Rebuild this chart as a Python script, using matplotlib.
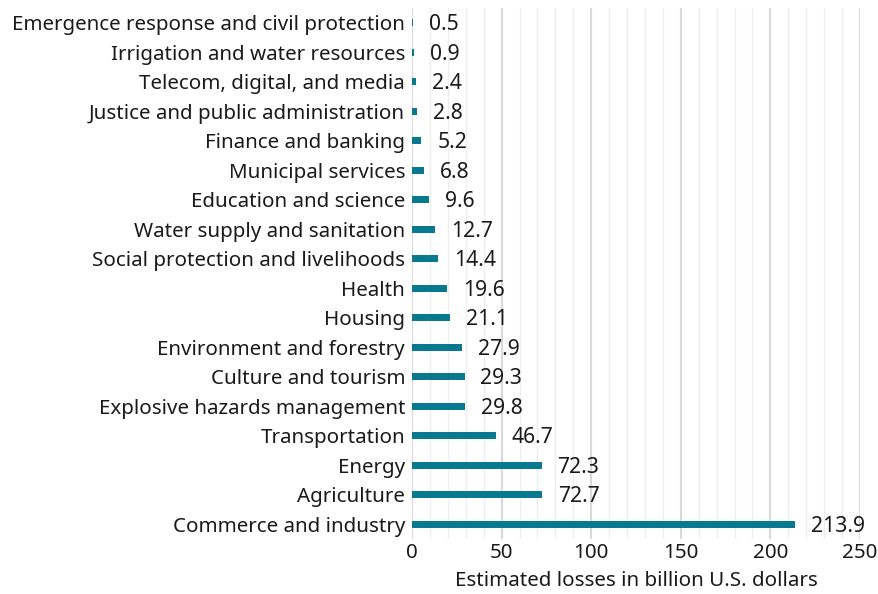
import matplotlib
matplotlib.use("Agg")
import matplotlib.pyplot as plt
from matplotlib.ticker import MultipleLocator

categories = [
    "Emergence response and civil protection",
    "Irrigation and water resources",
    "Telecom, digital, and media",
    "Justice and public administration",
    "Finance and banking",
    "Municipal services",
    "Education and science",
    "Water supply and sanitation",
    "Social protection and livelihoods",
    "Health",
    "Housing",
    "Environment and forestry",
    "Culture and tourism",
    "Explosive hazards management",
    "Transportation",
    "Energy",
    "Agriculture",
    "Commerce and industry",
]
values = [0.5, 0.9, 2.4, 2.8, 5.2, 6.8, 9.6, 12.7, 14.4, 19.6, 21.1, 27.9,
          29.3, 29.8, 46.7, 72.3, 72.7, 213.9]
value_labels = ["0.5", "0.9", "2.4", "2.8", "5.2", "6.8", "9.6", "12.7", "14.4",
                "19.6", "21.1", "27.9", "29.3", "29.8", "46.7", "72.3", "72.7", "213.9"]
x_ticks = [0, 50, 100, 150, 200, 250]

plt.rcParams['font.family'] = ['Noto Sans', 'DejaVu Sans']

fig = plt.figure(figsize=(8.79, 5.94), dpi=100)
ax = fig.add_axes([412/879, 1 - 539/594, (860 - 412)/879, (539 - 8)/594])

color = '#08798f'
txt = '#1a1a1a'
fs = 14.8
ypos = list(range(len(categories)))
ax.barh(ypos, values, height=0.24, color=color, zorder=3)
ax.set_ylim(len(categories) - 0.5, -0.5)
ax.set_yticks(ypos)
ax.set_yticklabels(categories, fontsize=fs, color=txt)

for y, v, lab in zip(ypos, values, value_labels):
    ax.annotate(lab, xy=(v, y), xytext=(11.5, -1.5), textcoords='offset points',
                ha='left', va='center', fontsize=15.2, color=txt, zorder=4)

ax.set_xlim(0, 250)
ax.set_xticks(x_ticks)
ax.set_xticklabels([str(t) for t in x_ticks], fontsize=fs, color=txt)
ax.xaxis.set_minor_locator(MultipleLocator(10))
ax.grid(axis='x', which='minor', color='#eeeeee', linewidth=1.0, zorder=0)
ax.grid(axis='x', which='major', color='#d9d9d9', linewidth=1.5, zorder=0)
ax.tick_params(axis='both', which='both', length=0)
ax.tick_params(axis='y', pad=5)
ax.tick_params(axis='x', pad=3)
for s in ax.spines.values():
    s.set_visible(False)
ax.set_xlabel("Estimated losses in billion U.S. dollars", fontsize=fs,
              color=txt, labelpad=6)

fig.savefig("out.png", dpi=100)
